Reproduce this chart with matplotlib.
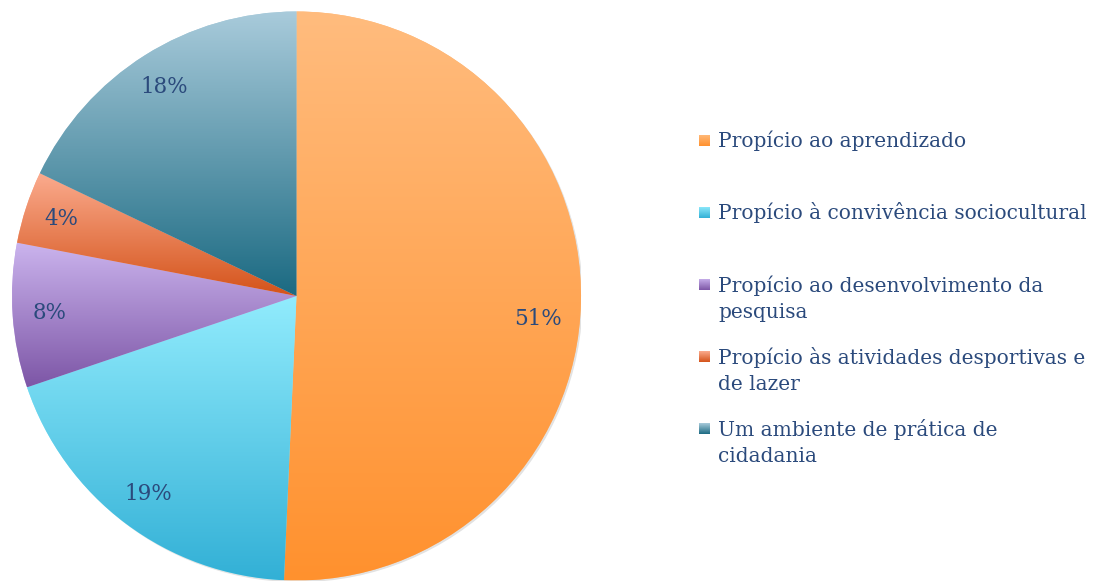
import matplotlib.pyplot as plt
import numpy as np
from matplotlib.colors import LinearSegmentedColormap
from matplotlib.patches import Circle

# Dados
categorias = ['Propício ao aprendizado',
              'Propício à convivência sociocultural',
              'Propício ao desenvolvimento da\npesquisa',
              'Propício às atividades desportivas e\nde lazer',
              'Um ambiente de prática de\ncidadania']
valores = [50.7, 19.1, 8.2, 4.1, 17.9]
cor_topo = ['#ffbc7e', '#92ecfd', '#cbb4ee', '#fbab8e', '#a9cbdb']
cor_base = ['#ff912e', '#32b0d6', '#7d56a6', '#d4531a', '#1b6a82']

cor_texto = '#2b4a7c'
fonte = ['DejaVu Serif']

W, H = 1098, 581
fig = plt.figure(figsize=(W / 100, H / 100), dpi=100)

# Pizza
ax = fig.add_axes([12 / W, 0.5 / H, 569 / W, 569 / H])
sombra = Circle((0.006, -0.006), 1.0, facecolor='#e2e2e2', edgecolor='none', zorder=0)
ax.add_patch(sombra)
wedges, textos, pcts = ax.pie(valores, startangle=90, counterclock=False, radius=1,
                              autopct='%.0f%%', pctdistance=0.87,
                              wedgeprops=dict(linewidth=0))

gradiente = np.linspace(0, 1, 256).reshape(-1, 1)
for w, topo, base in zip(wedges, cor_topo, cor_base):
    cmap = LinearSegmentedColormap.from_list('', [base, topo])
    w.set_facecolor(topo)
    bb = w.get_path().get_extents()
    ax.imshow(gradiente, cmap=cmap, origin='lower', aspect='auto',
              extent=[bb.x0, bb.x1, bb.y0, bb.y1], clip_path=w, zorder=2)

for t in pcts:
    t.set_color(cor_texto)
    t.set_fontsize(15.5)
    t.set_family(fonte)
    t.set_zorder(5)
# rótulo de 51% um pouco mais abaixo
x, y = pcts[0].get_position()
pcts[0].set_position((x - 0.02, y - 0.06))

ax.set_xlim(-1, 1)
ax.set_ylim(-1, 1)
ax.axis('off')

# Legenda
for i, (rotulo, topo, base) in enumerate(zip(categorias, cor_topo, cor_base)):
    yb = 147 + 72 * i
    lax = fig.add_axes([699 / W, 1 - (yb - 1) / H, 11 / W, 11 / H])
    lax.imshow(gradiente, cmap=LinearSegmentedColormap.from_list('', [base, topo]),
               origin='lower', aspect='auto')
    lax.axis('off')
    # baseline da última linha
    yl = yb + 27 * rotulo.count('\n')
    fig.text(718 / W, 1 - yl / H, rotulo, va='baseline', ha='left',
             fontsize=14.5, family=fonte, color=cor_texto, linespacing=1.5)

plt.savefig('out.png', dpi=100)
